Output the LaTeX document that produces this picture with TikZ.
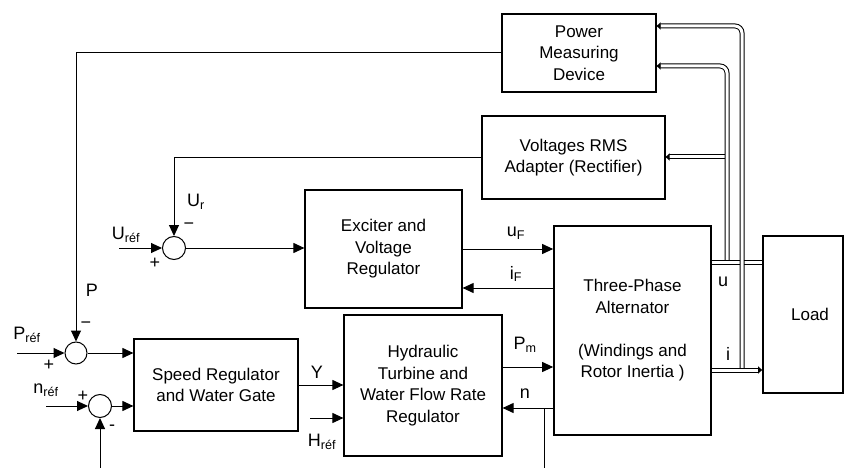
\documentclass[tikz,border=0pt]{standalone}
\usepackage{fontspec}
\setmainfont{Liberation Sans}
\usetikzlibrary{arrows.meta}
\begin{document}
\begin{tikzpicture}[x=1pt,y=-1pt,
  font=\fontsize{17}{21.5}\selectfont,
  blk/.style={draw, line width=1.2pt, rectangle, align=center, inner sep=0pt},
  thk/.style={blk, line width=1.7pt},
  sumj/.style={draw, circle, line width=1pt, minimum size=23pt, inner sep=0pt},
  sig/.style={line width=1pt, -{Triangle[length=11pt,width=10pt]}},
  wire/.style={line width=1pt},
  bus/.style={double, double distance=3pt, line width=1pt},
  busarr/.style={bus, -{Triangle[length=4pt,width=7pt]}},
  lbl/.style={inner sep=0pt, font=\fontsize{18}{21.5}\selectfont}
]
\useasboundingbox (0,0) rectangle (844,468);

% blocks
\node[blk, minimum width=154pt, minimum height=78pt] (pmd) at (579,53) {Power\\Measuring\\Device};
\node[blk, minimum width=183pt, minimum height=83pt] (rms) at (573.5,157.5) {Voltages RMS\\Adapter (Rectifier)};
\node[blk, minimum width=157pt, minimum height=118pt] (exc) at (383.5,249) {Exciter and\\Voltage\\Regulator};
\node[thk, minimum width=157pt, minimum height=209pt] (alt) at (632.5,330.5) {Three-Phase\\Alternator\\[21.5pt](Windings and\\Rotor Inertia )};
\node[blk, minimum width=158pt, minimum height=141pt] (hyd) at (423,385.5) {Hydraulic\\Turbine and\\Water Flow Rate\\Regulator};
\node[blk, minimum width=164pt, minimum height=92pt] (spd) at (216,385) {Speed Regulator\\and Water Gate};
\node[thk, minimum width=80pt, minimum height=157pt] (load) at (803,314.5) {\hspace*{14pt}Load};

% summing junctions
\node[sumj] (sU) at (174,248) {};
\node[sumj, minimum size=22pt] (sP) at (76,353) {};
\node[sumj] (sN) at (100,406) {};

% free ends
\coordinate (Uin) at (119,248);
\coordinate (Pin) at (17,353);
\coordinate (Nin) at (46,406);
\coordinate (Nfb) at (100,468);
\coordinate (Hin) at (310,418);
\coordinate (nj) at (544,408);
\coordinate (nfb) at (544,468);

% signal connectors
\draw[sig] (Uin) -- (sU.west);
\draw[sig] (Pin) -- (sP.west);
\draw[sig] (Nin) -- (sN.west);
\draw[sig] (Nfb) -- (sN.south);
\draw[sig] (sU.east) -- (exc.west |- sU.east);
\draw[sig] (sP.east) -- (spd.west |- sP.east);
\draw[sig] (sN.east) -- (spd.west |- sN.east);
\draw[sig] (spd.east) -- (hyd.west |- spd.east);
\draw[sig] (Hin) -- (hyd.west |- Hin);
\draw[sig] (exc.east |- 0,249) -- (alt.west |- 0,249);
\draw[sig] (alt.west |- 0,288) -- (exc.east |- 0,288);
\draw[sig] (hyd.east |- 0,367) -- (alt.west |- 0,367);
\draw[sig] (alt.west |- nj) -- (hyd.east |- nj);
\draw[wire] (nj) -- (nfb);
\draw[sig] (pmd.west) -| (sP.north);
\draw[sig] (rms.west) -| (sU.north);

% three-phase buses
\draw[busarr] (727,157) -- (rms.east |- 0,157);
\draw[busarr, rounded corners=7pt] (727,262) -- (727,66) -- (pmd.east |- 0,66);
\draw[bus] (alt.east |- 0,262) -- (load.west |- 0,262);
\draw[busarr, rounded corners=7pt] (742,370) -- (742,26) -- (pmd.east |- 0,26);
\draw[busarr] (alt.east |- 0,370) -- (load.west |- 0,370);

% labels
\node[lbl] (luF) at (516,233) {u\textsubscript{F}};
\node[lbl] (liF) at (516,274) {i\textsubscript{F}};
\node[lbl] (lu) at (723,282) {u};
\node[lbl] (li) at (728,354) {i};
\node[lbl] (lPm) at (525,345) {P\textsubscript{m}};
\node[lbl] (ln) at (525,394) {n};
\node[lbl] (lY) at (317,372) {Y};
\node[lbl] (lH) at (322,442) {H\textsubscript{réf}};
\node[lbl] (lUref) at (126,235) {U\textsubscript{réf}};
\node[lbl] (lUr) at (196,202) {U\textsubscript{r}};
\node[lbl] (lUm) at (189,226) {−};
\node[lbl] (lUp) at (155,263) {+};
\node[lbl] (lP) at (92,290) {P};
\node[lbl] (lPmin) at (86,325) {−};
\node[lbl] (lPref) at (27,335) {P\textsubscript{réf}};
\node[lbl] (lPp) at (49,365) {+};
\node[lbl] (lnref) at (46,390) {n\textsubscript{réf}};
\node[lbl] (lnp) at (83,396) {+};
\node[lbl] (lnm) at (112,428) {-};
\end{tikzpicture}
\end{document}
